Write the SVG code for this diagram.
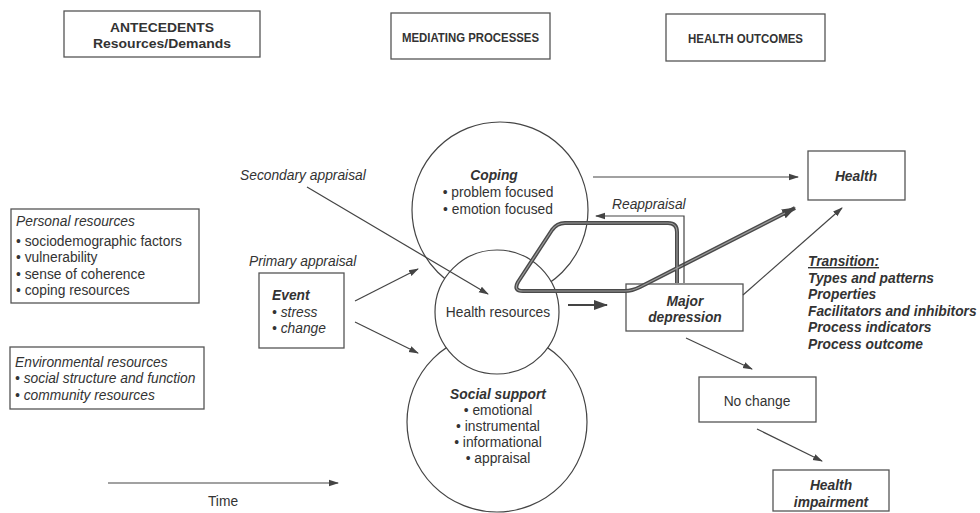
<svg xmlns="http://www.w3.org/2000/svg" width="980" height="513" viewBox="0 0 980 513">
<style>
text{font-family:"Liberation Sans",Arial,Helvetica,sans-serif;font-size:13.8px;fill:#333}
.b{font-weight:bold}
.i{font-style:italic}
.bi{font-weight:bold;font-style:italic}
.h{font-weight:bold;font-size:13.5px}
.h2{font-weight:bold;font-size:12.5px}
.m{text-anchor:middle}
.box{fill:#fff;stroke:#555;stroke-width:1.3}
.circ{fill:#fff;stroke:#444;stroke-width:1.2}
.ln{fill:none;stroke:#444;stroke-width:1.2}
.thick{fill:none;stroke:#4a4a4a;stroke-width:4;stroke-linejoin:round}
.thickin{fill:none;stroke:#9a9a9a;stroke-width:1.2;stroke-linejoin:round}
.thin2{fill:none;stroke:#444;stroke-width:2}
</style>
<defs>
<marker id="ah" markerWidth="10" markerHeight="8" refX="9" refY="4" orient="auto" markerUnits="userSpaceOnUse">
<path d="M0,0.8 L10,4 L0,7.2 Z" fill="#444"/>
</marker>
<marker id="ahb" markerWidth="14" markerHeight="10" refX="13" refY="5" orient="auto" markerUnits="userSpaceOnUse">
<path d="M0,0 L14,5 L0,10 Z" fill="#444"/>
</marker>
</defs>
<rect width="980" height="513" fill="#fff"/>

<g id="hdr-antecedents">
<rect class="box" x="64" y="11" width="196" height="46"/>
<text class="h m" x="162" y="32" textLength="104" lengthAdjust="spacingAndGlyphs">ANTECEDENTS</text>
<text class="h m" x="162" y="48" textLength="138" lengthAdjust="spacingAndGlyphs">Resources/Demands</text>
</g>
<g id="hdr-mediating">
<rect class="box" x="391" y="13" width="159" height="46"/>
<text class="h2 m" x="470.5" y="41.5" textLength="137" lengthAdjust="spacingAndGlyphs">MEDIATING PROCESSES</text>
</g>
<g id="hdr-outcomes">
<rect class="box" x="666" y="14" width="159" height="47"/>
<text class="h2 m" x="745.5" y="42.5" textLength="115" lengthAdjust="spacingAndGlyphs">HEALTH OUTCOMES</text>
</g>

<g id="personal">
<rect class="box" x="11" y="209" width="188" height="94"/>
<text class="i" x="16" y="226">Personal resources</text>
<text x="16" y="246">• sociodemographic factors</text>
<text x="16" y="262">• vulnerability</text>
<text x="16" y="279">• sense of coherence</text>
<text x="16" y="295">• coping resources</text>
</g>
<g id="environmental">
<rect class="box" x="10" y="347" width="194" height="62"/>
<text class="i" x="15" y="367">Environmental resources</text>
<text class="i" x="15" y="383">• social structure and function</text>
<text class="i" x="15" y="400">• community resources</text>
</g>

<g id="event">
<text class="i" x="249" y="266">Primary appraisal</text>
<rect class="box" x="259" y="273" width="85" height="75"/>
<text class="bi" x="272" y="300">Event</text>
<text class="i" x="272" y="317">• stress</text>
<text class="i" x="272" y="333">• change</text>
</g>

<g id="coping">
<circle class="circ" cx="500" cy="210" r="88"/>
<text class="bi m" x="494" y="180">Coping</text>
<text class="m" x="498" y="197">• problem focused</text>
<text class="m" x="498" y="214">• emotion focused</text>
</g>
<g id="social">
<circle class="circ" cx="497" cy="422" r="90"/>
<text class="bi m" x="498" y="399">Social support</text>
<text class="m" x="498" y="415">• emotional</text>
<text class="m" x="498" y="431">• instrumental</text>
<text class="m" x="498" y="447">• informational</text>
<text class="m" x="498" y="463">• appraisal</text>
</g>
<g id="health-resources">
<circle class="circ" cx="497" cy="312" r="62"/>
<text class="m" x="498" y="317">Health resources</text>
</g>

<g id="major-depression">
<rect class="box" x="626" y="284" width="117" height="47"/>
<text class="bi m" x="685" y="306">Major</text>
<text class="bi m" x="685" y="322">depression</text>
</g>
<g id="health">
<rect class="box" x="808" y="151" width="97" height="49"/>
<text class="bi m" x="856" y="181">Health</text>
</g>
<g id="transition">
<text class="bi" x="808" y="266" text-decoration="underline">Transition:</text>
<text class="bi" x="808" y="282.5">Types and patterns</text>
<text class="bi" x="808" y="299">Properties</text>
<text class="bi" x="808" y="315.5">Facilitators and inhibitors</text>
<text class="bi" x="808" y="332">Process indicators</text>
<text class="bi" x="808" y="348.5">Process outcome</text>
</g>
<g id="no-change">
<rect class="box" x="699" y="377" width="117" height="45"/>
<text class="m" x="757" y="406">No change</text>
</g>
<g id="health-impairment">
<rect class="box" x="773" y="470" width="116" height="41"/>
<text class="bi m" x="831" y="490">Health</text>
<text class="bi m" x="831" y="507">impairment</text>
</g>
<g id="time">
<text class="m" x="223" y="506">Time</text>
</g>

<g id="connectors">
<path class="thick" d="M677,283 L677,232 Q677,223 668,223 L565,223 Q557,223 552,230 L518,282 Q513,291 523,291 L625,291 Q632,291 640,287 L795,208" marker-end="url(#ahb)"/>
<path class="thickin" d="M677,283 L677,232 Q677,223 668,223 L565,223 Q557,223 552,230 L518,282 Q513,291 523,291 L625,291 Q632,291 640,287 L785,213"/>
<path class="ln" d="M684,283 L684,216 L596,216" marker-end="url(#ah)"/>
<line class="ln" x1="593" y1="177" x2="798" y2="177" marker-end="url(#ah)"/>
<line class="ln" x1="743" y1="295" x2="842" y2="208" marker-end="url(#ah)"/>
<line class="thin2" x1="568" y1="305" x2="607" y2="305" marker-end="url(#ahb)"/>
<line class="ln" x1="307" y1="187" x2="488" y2="294" marker-end="url(#ah)"/>
<line class="ln" x1="355" y1="301" x2="418" y2="269" marker-end="url(#ah)"/>
<line class="ln" x1="355" y1="322" x2="418" y2="353" marker-end="url(#ah)"/>
<line class="ln" x1="686" y1="338" x2="752" y2="369" marker-end="url(#ah)"/>
<line class="ln" x1="757" y1="429" x2="822" y2="461" marker-end="url(#ah)"/>
<line class="ln" x1="108" y1="483" x2="338" y2="483" marker-end="url(#ah)"/>
<text class="i" x="240" y="180">Secondary appraisal</text>
<text class="i" x="612" y="209">Reappraisal</text>
</g>
</svg>
